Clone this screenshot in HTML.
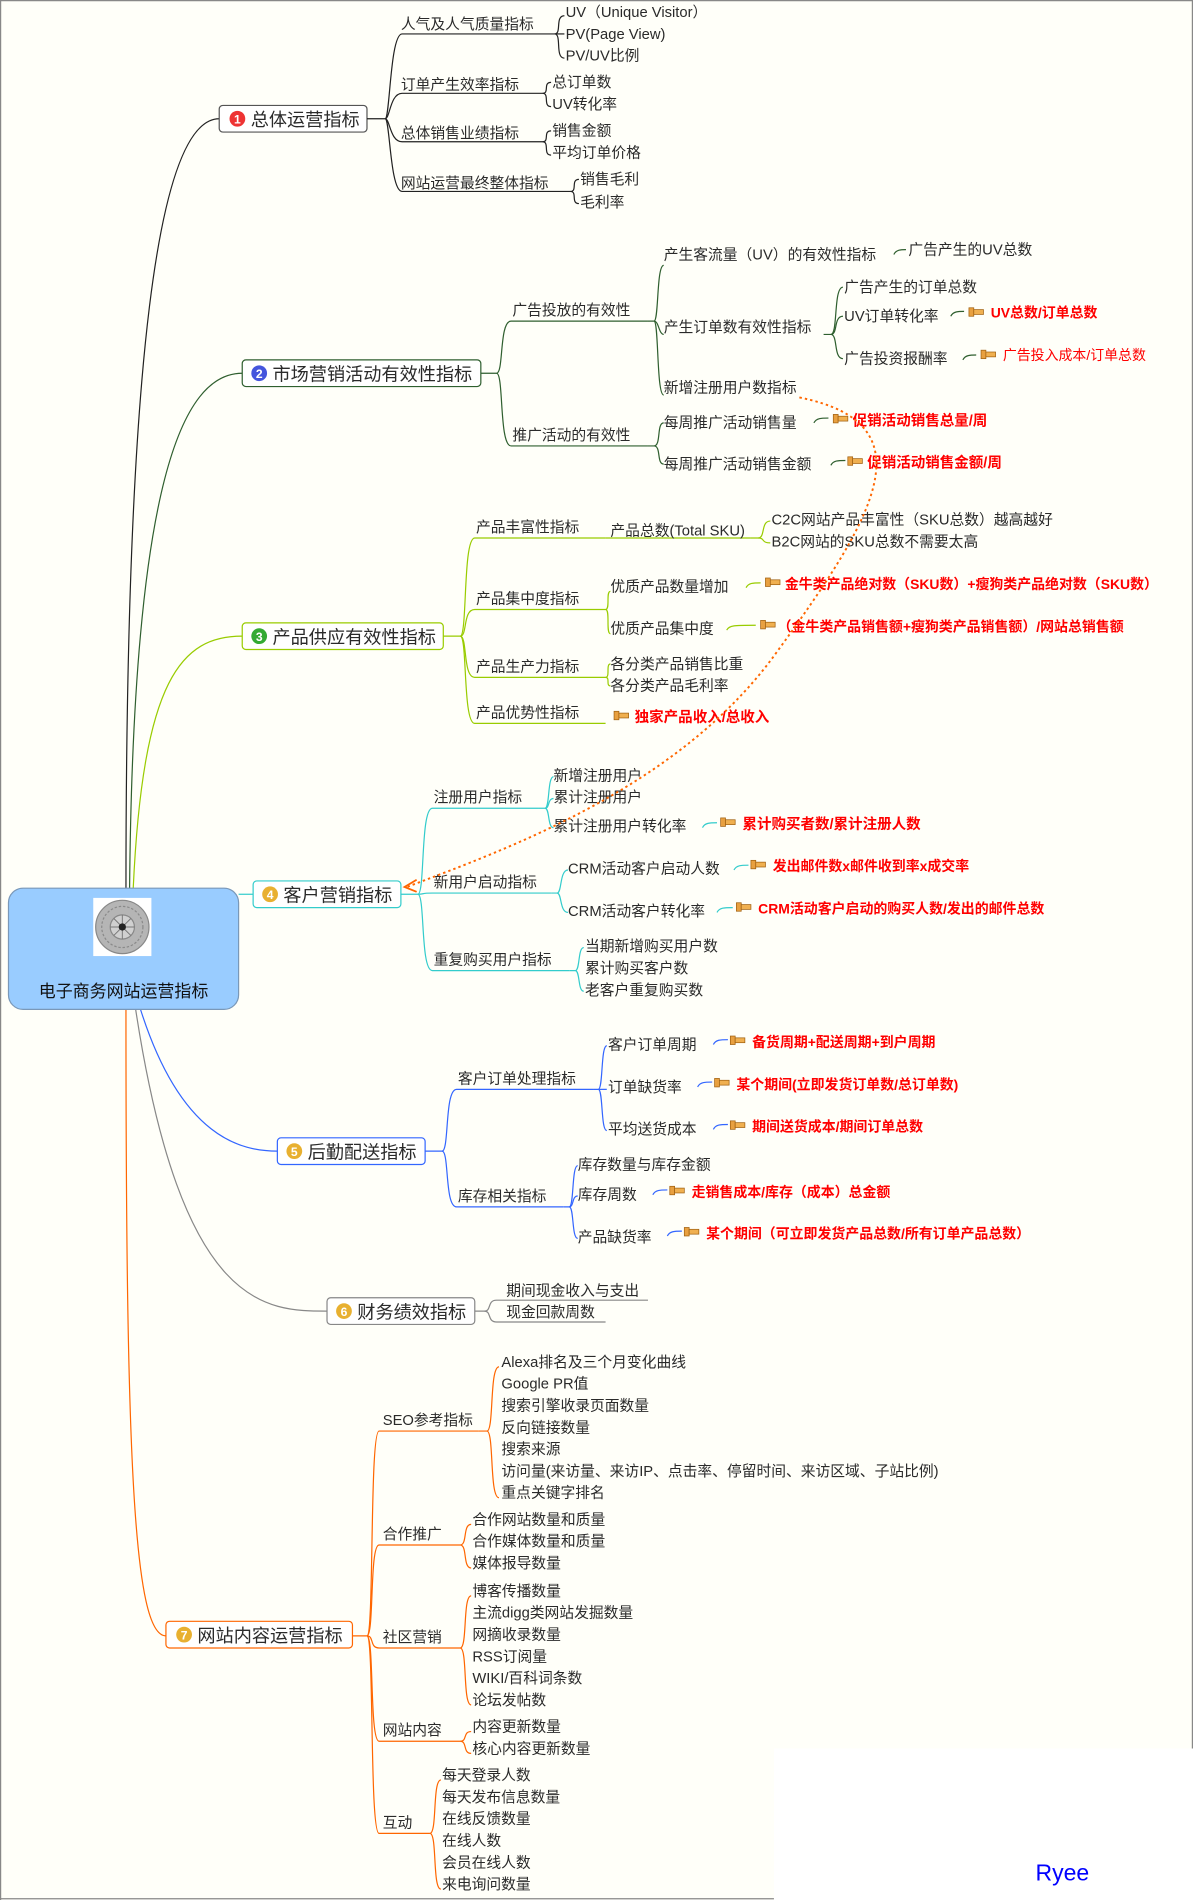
<!DOCTYPE html>
<html><head><meta charset="utf-8"><style>
html,body{margin:0;padding:0;background:#fff;}
svg{display:block;}
text{font-family:"Liberation Sans","Noto Sans CJK SC",sans-serif;font-size:12.2px;fill:#2a2a2a;}
.m{font-size:15px;}
.r{fill:#ff0000;font-weight:bold;font-size:11.5px;}
.c path,.c line{fill:none;stroke-width:1;}
</style></head><body>
<svg width="1193" height="1900" viewBox="0 0 985 1568" preserveAspectRatio="none" xmlns="http://www.w3.org/2000/svg">
<defs>
<g id="ic"><rect x="0" y="-3" width="4" height="7" fill="#e8a040" stroke="#a06010" stroke-width="0.6"/><rect x="4" y="-1.5" width="8" height="4" fill="#f0b050" stroke="#a06010" stroke-width="0.6"/></g>
</defs>
<rect x="0" y="0" width="985" height="1568" fill="#fffff9"/>
<rect x="639" y="1443" width="346" height="125" fill="#ffffff"/>
<path d="M0.5 1568 V0.5 H984.5 V1443" fill="none" stroke="#888" stroke-width="1"/>
<line x1="0" y1="1567" x2="639" y2="1567" stroke="#888"/>

<!-- main branches -->
<g class="c">
<path d="M104 733 C104 300 130 98 181 98" stroke="#222"/>
<path d="M107 733 C110 400 150 308 200 308" stroke="#2f5f2f"/>
<path d="M110 733 C118 560 150 525 200 525" stroke="#99cc00"/>
<path d="M197 738 L209 738" stroke="#33cccc"/>
<path d="M116 833 C150 940 200 950 229 950" stroke="#3366ff"/>
<path d="M112 833 C150 1082 220 1082 270 1082" stroke="#888"/>
<path d="M104 833 C104 1200 110 1350 137 1350" stroke="#ff6600"/>
</g>

<!-- root -->
<rect x="7" y="733" width="190" height="100" rx="12" fill="#99ccff" stroke="#7a98b8"/>
<rect x="77" y="741" width="48" height="48" fill="#fff"/>
<circle cx="101" cy="765" r="22" fill="#b5b5b5" stroke="#888"/>
<circle cx="101" cy="765" r="17" fill="none" stroke="#8a8a8a" stroke-dasharray="2,1.5"/>
<circle cx="101" cy="765" r="10" fill="#d0d0d0" stroke="#888"/>
<path d="M101 755 V775 M91 765 H111 M94 758 L108 772 M108 758 L94 772" stroke="#777" stroke-width="0.8"/>
<circle cx="101" cy="765" r="3" fill="#222"/>
<text x="102" y="823" text-anchor="middle" style="font-size:14px;fill:#111">电子商务网站运营指标</text>

<!-- main nodes -->
<g>
<rect x="181" y="87" width="122" height="22" rx="3" fill="#fff" stroke="#555"/>
<circle cx="196" cy="98" r="6.5" fill="#e33"/><text x="196" y="102" text-anchor="middle" style="fill:#fff;font-size:10px;font-weight:bold">1</text>
<text class="m" x="207" y="104">总体运营指标</text>

<rect x="200" y="297" width="197" height="22" rx="3" fill="#fff" stroke="#2f5f2f"/>
<circle cx="214" cy="308" r="6.5" fill="#4455dd"/><text x="214" y="312" text-anchor="middle" style="fill:#fff;font-size:10px;font-weight:bold">2</text>
<text class="m" x="225" y="314">市场营销活动有效性指标</text>

<rect x="200" y="514" width="166" height="22" rx="3" fill="#fff" stroke="#99cc00"/>
<circle cx="214" cy="525" r="6.5" fill="#33aa33"/><text x="214" y="529" text-anchor="middle" style="fill:#fff;font-size:10px;font-weight:bold">3</text>
<text class="m" x="225" y="531">产品供应有效性指标</text>

<rect x="209" y="727" width="122" height="22" rx="3" fill="#fff" stroke="#33cccc"/>
<circle cx="223" cy="738" r="6.5" fill="#e8b030"/><text x="223" y="742" text-anchor="middle" style="fill:#fff;font-size:10px;font-weight:bold">4</text>
<text class="m" x="234" y="744">客户营销指标</text>

<rect x="229" y="939" width="122" height="22" rx="3" fill="#fff" stroke="#3366ff"/>
<circle cx="243" cy="950" r="6.5" fill="#e8b030"/><text x="243" y="954" text-anchor="middle" style="fill:#fff;font-size:10px;font-weight:bold">5</text>
<text class="m" x="254" y="956">后勤配送指标</text>

<rect x="270" y="1071" width="122" height="22" rx="3" fill="#fff" stroke="#888"/>
<circle cx="284" cy="1082" r="6.5" fill="#e8b030"/><text x="284" y="1086" text-anchor="middle" style="fill:#fff;font-size:10px;font-weight:bold">6</text>
<text class="m" x="295" y="1088">财务绩效指标</text>

<rect x="137" y="1338" width="154" height="22" rx="3" fill="#fff" stroke="#ff6600"/>
<circle cx="152" cy="1349" r="6.5" fill="#e8b030"/><text x="152" y="1353" text-anchor="middle" style="fill:#fff;font-size:10px;font-weight:bold">7</text>
<text class="m" x="163" y="1355">网站内容运营指标</text>
</g>

<!-- Branch 1 -->
<g class="c" stroke="#222">
<path d="M303 98 H318 C322 98 322 28 332 28 H458"/>
<path d="M318 98 C322 98 322 77 332 77 H448"/>
<path d="M318 98 C322 98 322 117 332 117 H448"/>
<path d="M318 98 C322 98 322 158 332 158 H471"/>
<path d="M458 28 C464 28 458 13 466 13"/><path d="M458 28 H466"/><path d="M458 28 C464 28 458 48 466 48"/>
<path d="M448 77 C454 77 448 68 455 68"/><path d="M448 77 C454 77 448 88 455 88"/>
<path d="M448 117 C454 117 448 108 455 108"/><path d="M448 117 C454 117 448 128 455 128"/>
<path d="M471 158 C477 158 471 148 478 148"/><path d="M471 158 C477 158 471 168 478 168"/>
</g>
<text x="331" y="24">人气及人气质量指标</text>
<text x="467" y="14">UV（Unique Visitor）</text>
<text x="467" y="32">PV(Page View)</text>
<text x="467" y="50">PV/UV比例</text>
<text x="331" y="74">订单产生效率指标</text>
<text x="456" y="72">总订单数</text>
<text x="456" y="90">UV转化率</text>
<text x="331" y="114">总体销售业绩指标</text>
<text x="456" y="112">销售金额</text>
<text x="456" y="130">平均订单价格</text>
<text x="331" y="155">网站运营最终整体指标</text>
<text x="479" y="152">销售毛利</text>
<text x="479" y="171">毛利率</text>

<!-- Branch 2 -->
<g class="c" stroke="#2f5f2f">
<path d="M397 308 H410 C416 308 412 265 422 265 H535"/>
<path d="M410 308 C416 308 412 368 422 368 H535"/>
<path d="M535 265 H540 C544 265 542 219 548 219"/>
<path d="M540 265 C544 265 544 276 548 276"/>
<path d="M540 265 C544 265 542 326 548 326"/>
<path d="M680 276 H686 C692 276 688 237 696 237"/>
<path d="M686 276 C692 276 688 261 696 261"/>
<path d="M686 276 C692 276 688 296 696 296"/>
<path d="M535 368 H540 C546 368 542 349 548 349"/>
<path d="M540 368 C546 368 542 383 548 383"/>
<path d="M738 210 C740 206 744 206 748 206"/>
<path d="M785 261 C787 257 791 257 796 257"/>
<path d="M795 297 C797 293 801 293 806 293"/>
<path d="M672 349 C674 345 678 345 684 345"/>
<path d="M686 384 C688 380 692 380 698 380"/>
</g>
<text x="423" y="260">广告投放的有效性</text>
<text x="423" y="363">推广活动的有效性</text>
<text x="548" y="214">产生客流量（UV）的有效性指标</text>
<text x="750" y="210">广告产生的UV总数</text>
<text x="548" y="274">产生订单数有效性指标</text>
<text x="697" y="241">广告产生的订单总数</text>
<text x="697" y="265">UV订单转化率</text>
<text x="697" y="300">广告投资报酬率</text>
<use href="#ic" x="800" y="257"/><text class="r" x="818" y="262">UV总数/订单总数</text>
<use href="#ic" x="810" y="292"/><text class="r" x="828" y="297" style="font-weight:normal">广告投入成本/订单总数</text>
<text x="548" y="324">新增注册用户数指标</text>
<text x="548" y="353">每周推广活动销售量</text>
<use href="#ic" x="688" y="345"/><text class="r" x="704" y="351" style="font-size:12px">促销活动销售总量/周</text>
<text x="548" y="387">每周推广活动销售金额</text>
<use href="#ic" x="700" y="380"/><text class="r" x="716" y="386" style="font-size:12px">促销活动销售金额/周</text>

<!-- Branch 3 -->
<g class="c" stroke="#99cc00">
<path d="M366 525 H380 C386 525 382 444 392 444 H500"/>
<path d="M380 525 C386 525 382 503 392 503 H500"/>
<path d="M380 525 C386 525 382 559 392 559 H500"/>
<path d="M380 525 C386 525 382 597 392 597 H500"/>
<path d="M500 444 H620"/>
<path d="M620 444 H626 C632 444 628 430 636 430"/>
<path d="M626 444 C632 444 628 448 636 448"/>
<path d="M500 503 C504 503 500 488 504 488"/>
<path d="M500 503 C504 503 500 523 504 523"/>
<path d="M500 559 C504 559 500 548 504 548"/>
<path d="M500 559 C504 559 500 566 504 566"/>
<path d="M616 485 C618 481 622 481 628 481"/>
<path d="M600 520 C602 516 606 516 624 516"/>
</g>
<text x="393" y="439">产品丰富性指标</text>
<text x="504" y="442">产品总数(Total SKU)</text>
<text x="637" y="433">C2C网站产品丰富性（SKU总数）越高越好</text>
<text x="637" y="451">B2C网站的SKU总数不需要太高</text>
<text x="393" y="498">产品集中度指标</text>
<text x="504" y="488">优质产品数量增加</text>
<use href="#ic" x="632" y="480"/><text class="r" x="648" y="486">金牛类产品绝对数（SKU数）+瘦狗类产品绝对数（SKU数）</text>
<text x="504" y="523">优质产品集中度</text>
<use href="#ic" x="628" y="515"/><text class="r" x="642" y="521">（金牛类产品销售额+瘦狗类产品销售额）/网站总销售额</text>
<text x="393" y="554">产品生产力指标</text>
<text x="504" y="552">各分类产品销售比重</text>
<text x="504" y="570">各分类产品毛利率</text>
<text x="393" y="592">产品优势性指标</text>
<use href="#ic" x="507" y="590"/><text class="r" x="524" y="596" style="font-size:12px">独家产品收入/总收入</text>

<!-- Branch 4 -->
<g class="c" stroke="#33cccc">
<path d="M331 738 H345 C351 738 347 667 357 667 H445"/>
<path d="M345 738 C351 738 347 737 357 737 H455"/>
<path d="M345 738 C351 738 347 801 357 801 H470"/>
<path d="M445 667 H450 C454 667 452 641 457 641"/>
<path d="M450 667 C454 667 452 659 457 659"/>
<path d="M450 667 C454 667 452 683 457 683"/>
<path d="M455 737 H460 C464 737 462 718 469 718"/>
<path d="M460 737 C464 737 462 753 469 753"/>
<path d="M470 801 H475 C479 801 477 782 482 782"/>
<path d="M475 801 C479 801 477 818 482 818"/>
<path d="M580 683 C582 679 586 679 592 679"/>
<path d="M606 718 C608 714 612 714 618 714"/>
<path d="M592 753 C594 749 598 749 605 749"/>
</g>
<text x="358" y="662">注册用户指标</text>
<text x="457" y="644">新增注册用户</text>
<text x="457" y="662">累计注册用户</text>
<text x="457" y="686">累计注册用户转化率</text>
<use href="#ic" x="595" y="678"/><text class="r" x="613" y="684" style="font-size:12px">累计购买者数/累计注册人数</text>
<text x="358" y="732">新用户启动指标</text>
<text x="469" y="721">CRM活动客户启动人数</text>
<use href="#ic" x="620" y="713"/><text class="r" x="638" y="719">发出邮件数x邮件收到率x成交率</text>
<text x="469" y="756">CRM活动客户转化率</text>
<use href="#ic" x="608" y="748"/><text class="r" x="626" y="754">CRM活动客户启动的购买人数/发出的邮件总数</text>
<text x="358" y="796">重复购买用户指标</text>
<text x="483" y="785">当期新增购买用户数</text>
<text x="483" y="803">累计购买客户数</text>
<text x="483" y="821">老客户重复购买数</text>

<!-- dotted arrow -->
<path d="M660 328 C770 350 720 430 640 540 C560 650 420 700 336 732" fill="none" stroke="#ff6600" stroke-width="1.6" stroke-dasharray="2,2.5"/>
<path d="M344 726 L334 732 L344 736" fill="none" stroke="#ff6600" stroke-width="1.5"/>

<!-- Branch 5 -->
<g class="c" stroke="#3366ff">
<path d="M351 950 H365 C371 950 367 899 377 899 H490"/>
<path d="M365 950 C371 950 367 996 377 996 H465"/>
<path d="M490 899 H494 C498 899 496 863 501 863"/>
<path d="M494 899 H501"/>
<path d="M494 899 C498 899 496 933 501 933"/>
<path d="M465 996 H470 C474 996 472 962 477 962"/>
<path d="M470 996 C474 996 472 987 477 987"/>
<path d="M470 996 C474 996 472 1022 477 1022"/>
<path d="M589 862 C591 858 595 858 601 858"/>
<path d="M576 897 C578 893 582 893 588 893"/>
<path d="M589 932 C591 928 595 928 601 928"/>
<path d="M539 986 C541 982 545 982 551 982"/>
<path d="M551 1020 C553 1016 557 1016 563 1016"/>
</g>
<text x="378" y="894">客户订单处理指标</text>
<text x="502" y="866">客户订单周期</text>
<use href="#ic" x="603" y="858"/><text class="r" x="621" y="864">备货周期+配送周期+到户周期</text>
<text x="502" y="901">订单缺货率</text>
<use href="#ic" x="590" y="893"/><text class="r" x="608" y="899">某个期间(立即发货订单数/总订单数)</text>
<text x="502" y="936">平均送货成本</text>
<use href="#ic" x="603" y="928"/><text class="r" x="621" y="934">期间送货成本/期间订单总数</text>
<text x="378" y="991">库存相关指标</text>
<text x="477" y="965">库存数量与库存金额</text>
<text x="477" y="990">库存周数</text>
<use href="#ic" x="553" y="982"/><text class="r" x="571" y="988">走销售成本/库存（成本）总金额</text>
<text x="477" y="1025">产品缺货率</text>
<use href="#ic" x="565" y="1016"/><text class="r" x="583" y="1022">某个期间（可立即发货产品总数/所有订单产品总数）</text>

<!-- Branch 6 -->
<g class="c" stroke="#888">
<path d="M392 1082 H400 C406 1082 402 1073 410 1073 H535"/>
<path d="M400 1082 C406 1082 402 1091 410 1091 H500"/>
</g>
<text x="418" y="1069">期间现金收入与支出</text>
<text x="418" y="1087">现金回款周数</text>

<!-- Branch 7 -->
<g class="c" stroke="#ff6600">
<path d="M291 1350 H303 C309 1350 305 1181 313 1181 H395"/>
<path d="M303 1350 C309 1350 305 1275 313 1275 H380"/>
<path d="M303 1350 C309 1350 305 1360 313 1360 H380"/>
<path d="M303 1350 C309 1350 305 1437 313 1437 H380"/>
<path d="M303 1350 C309 1350 305 1513 313 1513 H355"/>
<path d="M395 1181 H402 C408 1181 404 1128 412 1128"/>
<path d="M402 1181 C408 1181 404 1236 412 1236"/>
<path d="M380 1275 C386 1275 382 1258 389 1258"/>
<path d="M380 1275 C386 1275 382 1294 389 1294"/>
<path d="M380 1360 C386 1360 382 1317 389 1317"/>
<path d="M380 1360 C386 1360 382 1407 389 1407"/>
<path d="M380 1437 C386 1437 382 1429 389 1429"/>
<path d="M380 1437 C386 1437 382 1447 389 1447"/>
<path d="M355 1513 C361 1513 357 1469 364 1469"/>
<path d="M355 1513 C361 1513 357 1559 364 1559"/>
</g>
<text x="316" y="1176">SEO参考指标</text>
<text x="414" y="1128">Alexa排名及三个月变化曲线</text>
<text x="414" y="1146">Google PR值</text>
<text x="414" y="1164">搜索引擎收录页面数量</text>
<text x="414" y="1182">反向链接数量</text>
<text x="414" y="1200">搜索来源</text>
<text x="414" y="1218">访问量(来访量、来访IP、点击率、停留时间、来访区域、子站比例)</text>
<text x="414" y="1236">重点关键字排名</text>
<text x="316" y="1270">合作推广</text>
<text x="390" y="1258">合作网站数量和质量</text>
<text x="390" y="1276">合作媒体数量和质量</text>
<text x="390" y="1294">媒体报导数量</text>
<text x="316" y="1355">社区营销</text>
<text x="390" y="1317">博客传播数量</text>
<text x="390" y="1335">主流digg类网站发掘数量</text>
<text x="390" y="1353">网摘收录数量</text>
<text x="390" y="1371">RSS订阅量</text>
<text x="390" y="1389">WIKI/百科词条数</text>
<text x="390" y="1407">论坛发帖数</text>
<text x="316" y="1432">网站内容</text>
<text x="390" y="1429">内容更新数量</text>
<text x="390" y="1447">核心内容更新数量</text>
<text x="316" y="1508">互动</text>
<text x="365" y="1469">每天登录人数</text>
<text x="365" y="1487">每天发布信息数量</text>
<text x="365" y="1505">在线反馈数量</text>
<text x="365" y="1523">在线人数</text>
<text x="365" y="1541">会员在线人数</text>
<text x="365" y="1559">来电询问数量</text>

<text x="855" y="1552" style="font-size:19px;fill:#0000ff">Ryee</text>
</svg>
</body></html>
